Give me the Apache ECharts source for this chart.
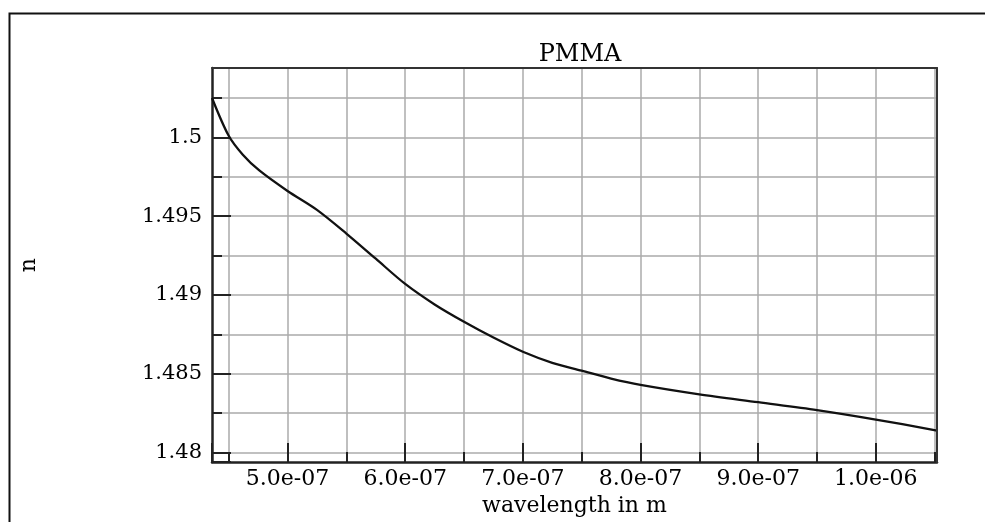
<!DOCTYPE html>
<html>
<head>
<meta charset="utf-8">
<script src="https://cdn.jsdelivr.net/npm/echarts@6/dist/echarts.min.js"></script>
<style>
html,body{margin:0;padding:0;background:#fff;}
#chart{width:985px;height:522px;}
</style>
</head>
<body>
<div id="chart"></div>
<script>
// Data (wavelength in m, refractive index n)
const wavelength = [4.358e-7, 4.5e-7, 4.62e-7, 4.76e-7, 5.0e-7, 5.25e-7, 5.5e-7, 5.75e-7, 6.0e-7, 6.25e-7, 6.5e-7, 6.75e-7, 7.0e-7, 7.25e-7, 7.5e-7, 7.75e-7, 8.0e-7, 8.5e-7, 9.0e-7, 9.5e-7, 1.0e-6, 1.052e-6];
const nValues = [1.5025, 1.5001, 1.4989, 1.4979, 1.4966, 1.4954, 1.4939, 1.4923, 1.4907, 1.4894, 1.4883, 1.4873, 1.4864, 1.4857, 1.4852, 1.4847, 1.4843, 1.4837, 1.4832, 1.4827, 1.4821, 1.4814];
const titleText = 'PMMA';
const xName = 'wavelength in m';
const yName = 'n';
const xRange = [4.358e-7, 1.052e-6];
const yRange = [1.4794, 1.5044];

const FONT = 'DejaVu Serif';
const chart = echarts.init(document.getElementById('chart'), null, {renderer: 'canvas'});

function fmtX(v) {
  return v.toExponential(1).replace(/e([+-])(\d)$/, 'e$10$2');
}
function fmtY(v) {
  return String(parseFloat(v.toFixed(4)));
}

const gridLine = {show: true, lineStyle: {color: '#ababab', width: 1.5}};

const option = {
  animation: false,
  backgroundColor: '#fff',
  title: {
    text: titleText, left: 575, top: 38, textAlign: 'center',
    textStyle: {fontFamily: FONT, fontSize: 24, fontWeight: 'normal', color: '#000'}
  },
  grid: {left: 212, top: 68, right: 48, bottom: 54, show: false},
  xAxis: [{
    type: 'value', min: xRange[0], max: xRange[1], splitNumber: 6,
    name: xName, nameLocation: 'middle', nameGap: 29,
    nameTextStyle: {fontFamily: FONT, fontSize: 22, color: '#000'},
    axisLine: {show: true, onZero: false, lineStyle: {color: '#222', width: 2.5}},
    axisTick: {show: true, inside: true, length: 19, lineStyle: {color: '#222', width: 2}},
    minorTick: {show: true, splitNumber: 2, length: 10, lineStyle: {color: '#222', width: 2}},
    splitLine: Object.assign({showMinLine: false, showMaxLine: false}, gridLine),
    minorSplitLine: gridLine,
    axisLabel: {fontFamily: FONT, fontSize: 22, color: '#000', margin: 6, showMinLabel: false, showMaxLabel: false, formatter: fmtX}
  }, {
    type: 'value', position: 'top', min: xRange[0], max: xRange[1], z: 5,
    axisLine: {show: true, onZero: false, lineStyle: {color: '#333', width: 2}},
    axisTick: {show: false}, axisLabel: {show: false}, splitLine: {show: false}
  }],
  yAxis: [{
    type: 'value', min: yRange[0], max: yRange[1], splitNumber: 5,
    name: yName, nameLocation: 'middle', nameGap: 172, nameRotate: 90,
    nameTextStyle: {fontFamily: FONT, fontSize: 22, color: '#000'},
    axisLine: {show: true, onZero: false, lineStyle: {color: '#222', width: 2.5}},
    axisTick: {show: true, inside: true, length: 19, lineStyle: {color: '#222', width: 2}},
    minorTick: {show: true, splitNumber: 2, length: 10, lineStyle: {color: '#222', width: 2}},
    splitLine: Object.assign({showMinLine: false, showMaxLine: false}, gridLine),
    minorSplitLine: gridLine,
    axisLabel: {fontFamily: FONT, fontSize: 21, color: '#000', margin: 10, showMinLabel: false, showMaxLabel: false, formatter: fmtY}
  }, {
    type: 'value', position: 'right', min: yRange[0], max: yRange[1], z: 5,
    axisLine: {show: true, onZero: false, lineStyle: {color: '#333', width: 2}},
    axisTick: {show: false}, axisLabel: {show: false}, splitLine: {show: false}
  }],
  graphic: [{
    type: 'rect', left: 7, top: 11, silent: true, z: 10,
    shape: {x: 0, y: 0, width: 1000, height: 600},
    style: {fill: 'none', stroke: '#111', lineWidth: 2}
  }],
  series: [{
    type: 'line',
    data: wavelength.map((w, i) => [w, nValues[i]]),
    showSymbol: false, smooth: 0.3, z: 3,
    lineStyle: {color: '#111', width: 2.3}
  }]
};
chart.setOption(option);
</script>
</body>
</html>
